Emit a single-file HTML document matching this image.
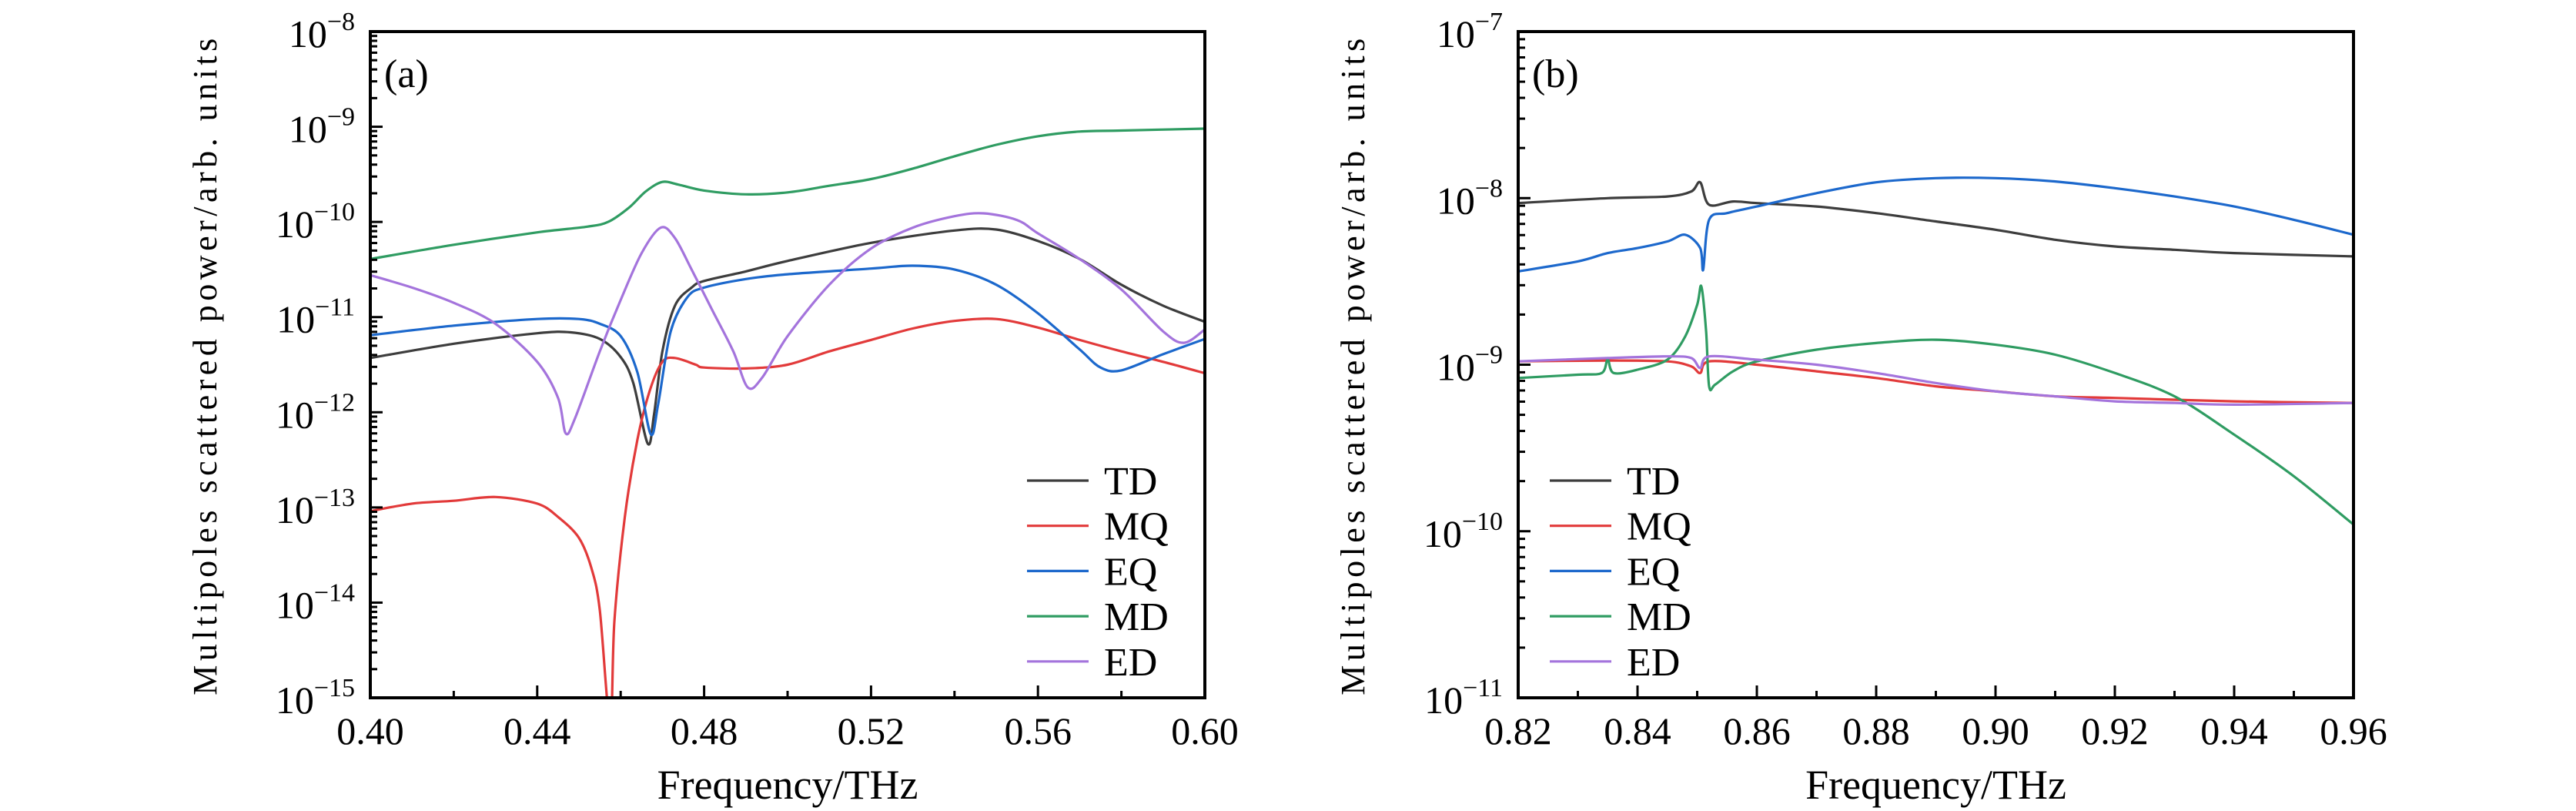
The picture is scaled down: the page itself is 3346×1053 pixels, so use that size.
<!DOCTYPE html>
<html><head><meta charset="utf-8"><style>
html,body{margin:0;padding:0;background:#fff}
svg{display:block;font-family:"Liberation Serif",serif}
</style></head><body>
<svg id="fig" width="3346" height="1053" xmlns="http://www.w3.org/2000/svg"></svg>
<script>
// ---- data: panel (a), [freq THz, log10(power)] ----
const aTD=[[0.40,-11.43],[0.42,-11.28],[0.44,-11.17],[0.448,-11.16],[0.455,-11.23],[0.46,-11.42],[0.463,-11.69],[0.4665,-12.33],[0.468,-12.02],[0.470,-11.36],[0.473,-10.88],[0.477,-10.69],[0.48,-10.62],[0.49,-10.52],[0.50,-10.41],[0.52,-10.22],[0.54,-10.09],[0.55,-10.08],[0.56,-10.20],[0.57,-10.39],[0.58,-10.66],[0.59,-10.88],[0.60,-11.05]];
const aMQ=[[0.40,-13.04],[0.41,-12.96],[0.42,-12.93],[0.43,-12.89],[0.44,-12.96],[0.445,-13.10],[0.45,-13.32],[0.453,-13.64],[0.455,-14.08],[0.4575,-15.3],[0.4585,-14.19],[0.461,-13.10],[0.464,-12.29],[0.467,-11.77],[0.470,-11.47],[0.473,-11.43],[0.478,-11.50],[0.48,-11.53],[0.49,-11.54],[0.50,-11.50],[0.51,-11.36],[0.52,-11.24],[0.53,-11.12],[0.54,-11.04],[0.55,-11.02],[0.56,-11.11],[0.57,-11.24],[0.58,-11.36],[0.59,-11.47],[0.60,-11.59]];
const aEQ=[[0.40,-11.19],[0.42,-11.09],[0.44,-11.02],[0.45,-11.02],[0.455,-11.07],[0.46,-11.20],[0.464,-11.58],[0.4672,-12.23],[0.469,-11.91],[0.472,-11.15],[0.476,-10.79],[0.48,-10.69],[0.49,-10.60],[0.50,-10.55],[0.52,-10.49],[0.53,-10.46],[0.54,-10.50],[0.55,-10.66],[0.56,-10.96],[0.57,-11.34],[0.575,-11.53],[0.58,-11.56],[0.59,-11.39],[0.60,-11.23]];
const aMD=[[0.40,-10.39],[0.42,-10.24],[0.44,-10.11],[0.452,-10.05],[0.457,-10.0],[0.462,-9.85],[0.466,-9.68],[0.470,-9.58],[0.474,-9.61],[0.48,-9.67],[0.49,-9.71],[0.50,-9.69],[0.51,-9.62],[0.52,-9.55],[0.53,-9.44],[0.54,-9.31],[0.55,-9.19],[0.56,-9.10],[0.57,-9.05],[0.58,-9.04],[0.60,-9.02]];
const aED=[[0.40,-10.56],[0.41,-10.69],[0.42,-10.85],[0.43,-11.07],[0.44,-11.47],[0.445,-11.85],[0.4468,-12.22],[0.449,-12.07],[0.455,-11.36],[0.46,-10.82],[0.465,-10.33],[0.4696,-10.06],[0.473,-10.17],[0.477,-10.50],[0.482,-10.93],[0.487,-11.36],[0.4905,-11.74],[0.494,-11.63],[0.50,-11.20],[0.51,-10.66],[0.52,-10.28],[0.53,-10.06],[0.54,-9.94],[0.547,-9.91],[0.555,-9.98],[0.56,-10.12],[0.57,-10.39],[0.58,-10.71],[0.59,-11.15],[0.595,-11.27],[0.60,-11.13]];
// ---- data: panel (b) ----
const bTD=[[0.82,-8.03],[0.835,-8.0],[0.845,-7.99],[0.849,-7.96],[0.8505,-7.905],[0.852,-8.04],[0.856,-8.02],[0.86,-8.03],[0.87,-8.05],[0.88,-8.09],[0.89,-8.14],[0.90,-8.19],[0.91,-8.25],[0.92,-8.29],[0.93,-8.31],[0.94,-8.33],[0.96,-8.35]];
const bMQ=[[0.82,-8.98],[0.835,-8.975],[0.845,-8.98],[0.849,-9.01],[0.8505,-9.05],[0.852,-8.98],[0.86,-9.0],[0.87,-9.04],[0.88,-9.08],[0.89,-9.13],[0.90,-9.16],[0.91,-9.19],[0.92,-9.20],[0.94,-9.22],[0.96,-9.23]];
const bEQ=[[0.82,-8.44],[0.83,-8.38],[0.835,-8.33],[0.84,-8.30],[0.845,-8.26],[0.848,-8.22],[0.8505,-8.30],[0.851,-8.43],[0.852,-8.13],[0.855,-8.09],[0.86,-8.05],[0.87,-7.97],[0.88,-7.905],[0.89,-7.88],[0.90,-7.88],[0.91,-7.90],[0.92,-7.94],[0.93,-7.99],[0.94,-8.05],[0.95,-8.13],[0.96,-8.22]];
const bMD=[[0.82,-9.08],[0.83,-9.06],[0.834,-9.05],[0.835,-8.97],[0.836,-9.05],[0.84,-9.03],[0.845,-8.97],[0.848,-8.83],[0.850,-8.64],[0.8507,-8.53],[0.8515,-8.80],[0.852,-9.13],[0.853,-9.12],[0.856,-9.04],[0.86,-8.98],[0.87,-8.91],[0.88,-8.87],[0.89,-8.85],[0.90,-8.88],[0.91,-8.94],[0.92,-9.05],[0.93,-9.19],[0.94,-9.42],[0.95,-9.67],[0.96,-9.96]];
const bED=[[0.82,-8.98],[0.835,-8.96],[0.845,-8.95],[0.849,-8.96],[0.8505,-9.02],[0.852,-8.95],[0.86,-8.97],[0.87,-9.0],[0.88,-9.05],[0.89,-9.11],[0.90,-9.16],[0.91,-9.19],[0.92,-9.22],[0.93,-9.23],[0.94,-9.24],[0.96,-9.23]];
const seriesNames=["TD","MQ","EQ","MD","ED"];
const aXTicks=[0.40,0.44,0.48,0.52,0.56,0.60];
const bXTicks=[0.82,0.84,0.86,0.88,0.90,0.92,0.94,0.96];
const aDecades=[-15,-14,-13,-12,-11,-10,-9,-8];
const bDecades=[-11,-10,-9,-8,-7];

const colors=["#3d3d3d","#e23a3a","#1c68cc","#2f9c62","#a474dc"];
const NS="http://www.w3.org/2000/svg";
const svg=document.getElementById('fig');
function mk(tag,attrs,parent){const e=document.createElementNS(NS,tag);for(const k in attrs)e.setAttribute(k,attrs[k]);(parent||svg).appendChild(e);return e;}
function smooth(pts){
  let d='M'+pts[0][0].toFixed(1)+' '+pts[0][1].toFixed(1);
  for(let i=0;i<pts.length-1;i++){
    const p0=pts[Math.max(0,i-1)],p1=pts[i],p2=pts[i+1],p3=pts[Math.min(pts.length-1,i+2)];
    const t=0.16;
    const c1x=p1[0]+(p2[0]-p0[0])*t,c1y=p1[1]+(p2[1]-p0[1])*t;
    const c2x=p2[0]-(p3[0]-p1[0])*t,c2y=p2[1]-(p3[1]-p1[1])*t;
    d+=` C${c1x.toFixed(1)} ${c1y.toFixed(1)} ${c2x.toFixed(1)} ${c2y.toFixed(1)} ${p2[0].toFixed(1)} ${p2[1].toFixed(1)}`;
  }
  return d;
}

function panel(id,L,R,T,B,xmin,xmax,ymin,ymax,xticks,decades,series,legX,label){
  const g=mk('g',{});
  
  
  const sx=v=>L+(v-xmin)/(xmax-xmin)*(R-L);
  const sy=v=>B-(v-ymin)/(ymax-ymin)*(B-T);
  const cp=mk('clipPath',{id:'clip'+id},g);
  mk('rect',{x:L,y:T,width:R-L,height:B-T},cp);
  series.forEach((s,i)=>{
    const pts=s.map(p=>[sx(p[0]),sy(p[1])]);
    const p=mk('path',{d:smooth(pts),fill:'none',stroke:colors[i],'stroke-width':3.2,'stroke-linejoin':'round','clip-path':'url(#clip'+id+')'},g);
    
    
  });
  const fr=mk('path',{d:`M${L} ${T}H${R}V${B}H${L}Z`,fill:'none',stroke:'#000','stroke-width':4},g);
  
  
  xticks.forEach((v,i)=>{
    const x=sx(v);
    mk('line',{x1:x,x2:x,y1:B,y2:B-16,stroke:'#000','stroke-width':3},g);
    if(i<xticks.length-1){const xm=sx((v+xticks[i+1])/2);mk('line',{x1:xm,x2:xm,y1:B,y2:B-9,stroke:'#000','stroke-width':3},g);}
    const t=mk('text',{x:x,y:B+60,'font-size':50,'text-anchor':'middle'},g);
    t.textContent=v.toFixed(2);
    
    
  });
  decades.forEach((d,i)=>{
    const y=sy(d);
    mk('line',{x1:L,x2:L+16,y1:y,y2:y,stroke:'#000','stroke-width':3},g);
    if(i<decades.length-1){for(let k=2;k<10;k++){const ym=sy(d+Math.log10(k));mk('line',{x1:L,x2:L+9,y1:ym,y2:ym,stroke:'#000','stroke-width':3},g);}}
    const t=mk('text',{x:L-20,y:y+20,'font-size':50,'text-anchor':'end'},g);
    
    
    const t1=mk('tspan',{},t);t1.textContent='10';
    const t2=mk('tspan',{dy:-22,'font-size':34},t);t2.textContent='\u2212'+Math.abs(d);
  });
  const xt=mk('text',{x:(L+R)/2,y:1037,'font-size':54,'text-anchor':'middle'},g);
  xt.textContent='Frequency/THz';
  
  
  const yt=mk('text',{x:0,y:0,'font-size':44,'text-anchor':'middle','letter-spacing':'5.5',transform:`translate(${L-200},${(T+B)/2}) rotate(-90)`},g);
  yt.textContent='Multipoles scattered power/arb. units';
  
  
  const pl=mk('text',{x:L+18,y:T+72,'font-size':52},g);
  pl.textContent=label;
  
  
  const lg=mk('g',{},g);
  
  
  seriesNames.forEach((n,i)=>{
    const y=624+i*58.7;
    const e=mk('g',{},lg);
    
    
    mk('line',{x1:legX,x2:legX+80,y1:y,y2:y,stroke:colors[i],'stroke-width':3.2},e);
    const t=mk('text',{x:legX+100,y:y+18,'font-size':52},e);
    t.textContent=n;
  });
}
panel('a',481,1565,41,906,0.40,0.60,-15,-8,aXTicks,aDecades,[aTD,aMQ,aEQ,aMD,aED],1334,'(a)');
panel('b',1972,3057,41,906,0.82,0.96,-11,-7,bXTicks,bDecades,[bTD,bMQ,bEQ,bMD,bED],2013,'(b)');
</script>
</body></html>
